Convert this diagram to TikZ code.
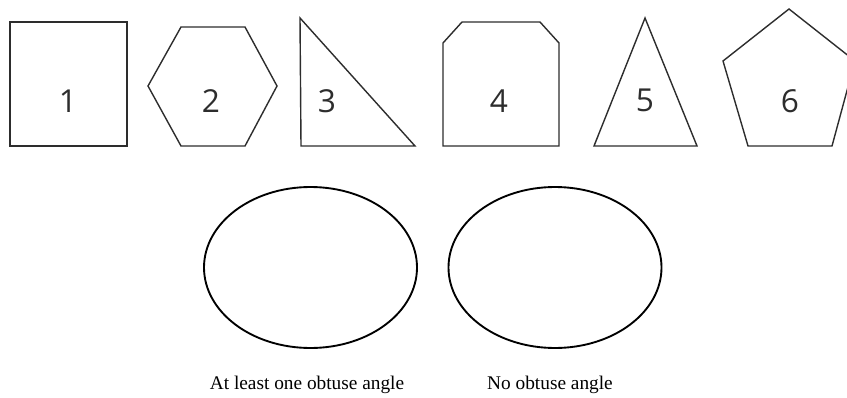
\documentclass[tikz,border=0pt]{standalone}
\usepackage{fontspec}
\newfontfamily\digitfont{Open Sans}
\newfontfamily\captionfont{Liberation Serif}
\usetikzlibrary{shapes.geometric}
\definecolor{ShapeGray}{RGB}{45,45,45}
\tikzset{
  outline/.style={draw=ShapeGray,line width=1.2pt,line join=miter},
  numlabel/.style={font=\digitfont\fontsize{27}{30}\selectfont,text=ShapeGray,inner sep=0pt},
  group/.style={draw=black,ellipse,line width=1.6pt,minimum width=213\pxu,minimum height=161\pxu,inner sep=0pt},
  caption/.style={font=\captionfont\fontsize{16.5}{18}\selectfont,inner sep=0pt,anchor=base}
}
\newlength{\pxu}
\setlength{\pxu}{0.03cm}

\begin{document}
\begin{tikzpicture}[x=0.03cm,y=-0.03cm]
\useasboundingbox (0,0) rectangle (847,398);
\clip (0,0) rectangle (847,398);

% Top row: the six polygons, pixel coordinates, y grows downward
\draw[outline] (10,22) rectangle (127,146);
\node[numlabel] (n1) at (68,101) {1};

\draw[outline] (148,86) -- (181,27) -- (245,27) -- (277,86) -- (245,146) -- (181,146) -- cycle;
\node[numlabel] (n2) at (211,101) {2};

\draw[outline] (300,18) -- (301,146) -- (415,146) -- cycle;
\node[numlabel] (n3) at (327,101) {3};

\draw[outline] (443,43) -- (462,22) -- (540,22) -- (559,43) -- (559,146) -- (443,146) -- cycle;
\node[numlabel] (n4) at (499,101) {4};

\draw[outline] (645,18) -- (697,146) -- (594,146) -- cycle;
\node[numlabel] (n5) at (645,100) {5};

\draw[outline] (789,9) -- (855,61) -- (832,146) -- (748,146) -- (723,61) -- cycle;
\node[numlabel] (n6) at (790,101) {6};

% Bottom row: the two sorting groups
\node[group] (obtuse) at (310.5,267.5) {};
\node[group] (noobtuse) at (555,267.5) {};

\node[caption] (lobtuse) at (307,389) {At least one obtuse angle};
\node[caption] (lnoobtuse) at (550,389) {No obtuse angle};

\end{tikzpicture}
\end{document}
